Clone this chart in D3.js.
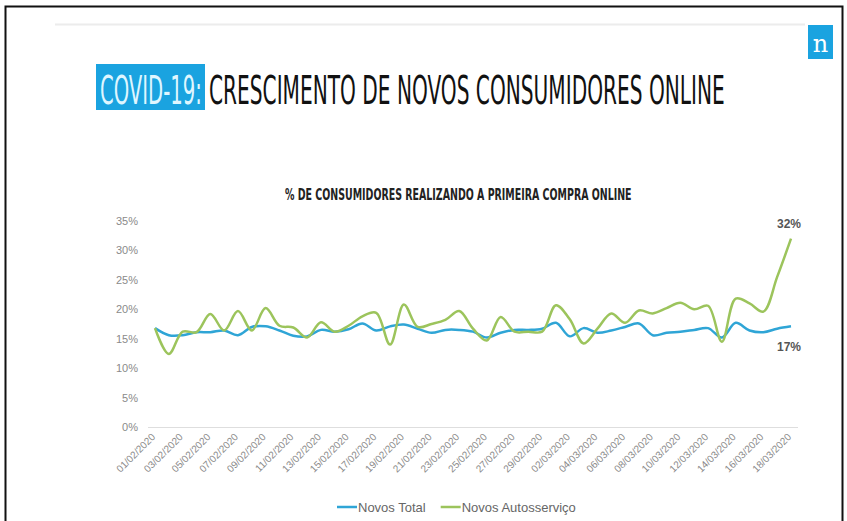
<!DOCTYPE html>
<html>
<head>
<meta charset="utf-8">
<script src="https://cdn.jsdelivr.net/npm/d3@7"></script>
<style>
  body { margin: 0; background: #fff; }
  svg { display: block; font-family: "Liberation Sans", Arial, sans-serif; }
</style>
</head>
<body>
<script>
// data (values in %)
var dates = ["01/02/2020","02/02/2020","03/02/2020","04/02/2020","05/02/2020","06/02/2020","07/02/2020",
  "08/02/2020","09/02/2020","10/02/2020","11/02/2020","12/02/2020","13/02/2020","14/02/2020","15/02/2020",
  "16/02/2020","17/02/2020","18/02/2020","19/02/2020","20/02/2020","21/02/2020","22/02/2020","23/02/2020",
  "24/02/2020","25/02/2020","26/02/2020","27/02/2020","28/02/2020","29/02/2020","01/03/2020","02/03/2020",
  "03/03/2020","04/03/2020","05/03/2020","06/03/2020","07/03/2020","08/03/2020","09/03/2020","10/03/2020",
  "11/03/2020","12/03/2020","13/03/2020","14/03/2020","15/03/2020","16/03/2020","17/03/2020","18/03/2020"];

var novosTotal = [16.8,15.6,15.6,16.1,16.1,16.4,15.6,17.0,17.1,16.4,15.5,15.4,16.5,16.2,16.6,17.6,
  16.4,17.1,17.4,16.7,16.0,16.5,16.5,16.2,15.2,16.0,16.5,16.5,16.7,17.7,15.4,16.8,16.0,16.4,17.0,
  17.6,15.6,16.0,16.2,16.5,16.8,15.2,17.7,16.4,16.1,16.7,17.1];

var novosAuto = [16.8,12.4,16.2,16.1,19.2,16.4,19.7,16.4,20.2,17.2,16.9,15.2,17.8,16.2,17.2,18.8,
  19.4,14.0,20.8,17.0,17.5,18.2,19.7,16.7,14.7,18.7,16.2,16.2,16.2,20.7,18.3,14.2,16.7,19.3,17.7,
  19.8,19.3,20.2,21.1,20.0,20.6,14.5,21.8,21.0,19.6,25.5,32.0];

var yTicks = [0, 5, 10, 15, 20, 25, 30, 35];
var xTicks = dates.filter(function(d, i){ return i % 2 === 0; });

var seriesNames = ["Novos Total", "Novos Autosserviço"];
var seriesColors = ["#2fa5d6", "#9cc45c"];

var w = 847, h = 521;

var svg = d3.select("body").append("svg")
  .attr("width", w)
  .attr("height", h);

// condensed heading text: shrink font to fit the width, then stretch it back up
function condensed(str, x0, y0, width, capPx, color, weight){
  var g = svg.append("g");
  var t = g.append("text")
    .attr("fill", color)
    .style("font-family", "'DejaVu Sans Condensed', 'DejaVu Sans', sans-serif")
    .style("font-weight", weight)
    .style("font-size", "40px")
    .text(str);
  var fs = 40 * width / t.node().getComputedTextLength();
  var sy = (capPx / 0.73) / fs;
  t.style("font-size", fs + "px");
  g.attr("transform", "translate(" + x0 + "," + y0 + ") scale(1," + sy + ")");
  return t;
}

// frame + header
svg.append("rect")
  .attr("x", 5.5).attr("y", 6.5)
  .attr("width", 837).attr("height", 530)
  .attr("fill", "none")
  .attr("stroke", "#111")
  .attr("stroke-width", 2);

svg.append("line")
  .attr("x1", 55).attr("x2", 805)
  .attr("y1", 24.5).attr("y2", 24.5)
  .attr("stroke", "#ececec")
  .attr("stroke-width", 2);

svg.append("rect")
  .attr("x", 808).attr("y", 25)
  .attr("width", 25).attr("height", 34)
  .attr("fill", "#1aa3e0");
svg.append("text")
  .attr("x", 820.5).attr("y", 52)
  .attr("text-anchor", "middle")
  .attr("fill", "#fff")
  .style("font-family", "'DejaVu Serif', 'Liberation Serif', serif")
  .style("font-size", "24px")
  .text("n");

// title
svg.append("rect")
  .attr("x", 96).attr("y", 64)
  .attr("width", 109).attr("height", 46)
  .attr("fill", "#1aa3e0");

condensed("COVID-19:", 100, 104, 102, 29, "#dff6ff", "normal");
condensed("CRESCIMENTO DE NOVOS CONSUMIDORES ONLINE", 209, 104, 516, 29, "#111", "normal");
condensed("% DE CONSUMIDORES REALIZANDO A PRIMEIRA COMPRA ONLINE", 285, 200, 347, 11.5, "#222", "bold");

// scales
var x = d3.scalePoint()
  .domain(dates)
  .range([155, 791]);

var y = d3.scaleLinear()
  .domain([0, 35])
  .range([427, 221]);

// y axis
var yAxis = svg.append("g")
  .attr("transform", "translate(140,0)")
  .call(d3.axisLeft(y).tickValues(yTicks).tickSize(0).tickPadding(2)
    .tickFormat(function(d){ return d + "%"; }));
yAxis.select(".domain").remove();
yAxis.selectAll("text")
  .attr("fill", "#8a8a8a")
  .style("font-size", "11px")
  .style("font-family", "'Liberation Sans', Arial, sans-serif");

// baseline
svg.append("line")
  .attr("x1", 148).attr("x2", 798)
  .attr("y1", y(0) + 0.5).attr("y2", y(0) + 0.5)
  .attr("stroke", "#dedede")
  .attr("stroke-width", 1);

// x axis
var xAxis = svg.append("g")
  .attr("transform", "translate(0," + (y(0) + 6) + ")")
  .call(d3.axisBottom(x).tickValues(xTicks).tickSize(0).tickPadding(0));
xAxis.select(".domain").remove();
xAxis.selectAll("text")
  .attr("fill", "#8a8a8a")
  .attr("text-anchor", "end")
  .attr("dy", "0.35em")
  .attr("transform", "rotate(-45) translate(-3,0)")
  .style("font-size", "10px")
  .style("font-family", "'Liberation Sans', Arial, sans-serif");

// lines
var line = d3.line()
  .x(function(d, i){ return x(dates[i]); })
  .y(function(d){ return y(d); })
  .curve(d3.curveCatmullRom.alpha(0.5));

[novosTotal, novosAuto].forEach(function(s, k){
  svg.append("path")
    .datum(s)
    .attr("fill", "none")
    .attr("stroke", seriesColors[k])
    .attr("stroke-width", 2.5)
    .attr("stroke-linejoin", "round")
    .attr("d", line);
});

// end labels
var last = dates.length - 1;
svg.append("text")
  .attr("x", x(dates[last]) - 2)
  .attr("y", y(novosAuto[last]) - 11)
  .attr("text-anchor", "middle")
  .attr("fill", "#555")
  .style("font-size", "12px")
  .style("font-weight", "bold")
  .text(Math.round(novosAuto[last]) + "%");
svg.append("text")
  .attr("x", x(dates[last]) - 2)
  .attr("y", y(novosTotal[last]) + 25)
  .attr("text-anchor", "middle")
  .attr("fill", "#555")
  .style("font-size", "12px")
  .style("font-weight", "bold")
  .text(Math.round(novosTotal[last]) + "%");

// legend
var legend = svg.append("g").attr("transform", "translate(337,507)");
var lx = 0;
seriesNames.forEach(function(name, k){
  legend.append("line")
    .attr("x1", lx).attr("x2", lx + 20)
    .attr("y1", 0).attr("y2", 0)
    .attr("stroke", seriesColors[k])
    .attr("stroke-width", 2.5);
  var t = legend.append("text")
    .attr("x", lx + 21)
    .attr("y", 4.5)
    .attr("fill", "#666")
    .style("font-size", "13px")
    .text(name);
  lx += 21 + t.node().getComputedTextLength() + 15;
});
</script>
</body>
</html>
